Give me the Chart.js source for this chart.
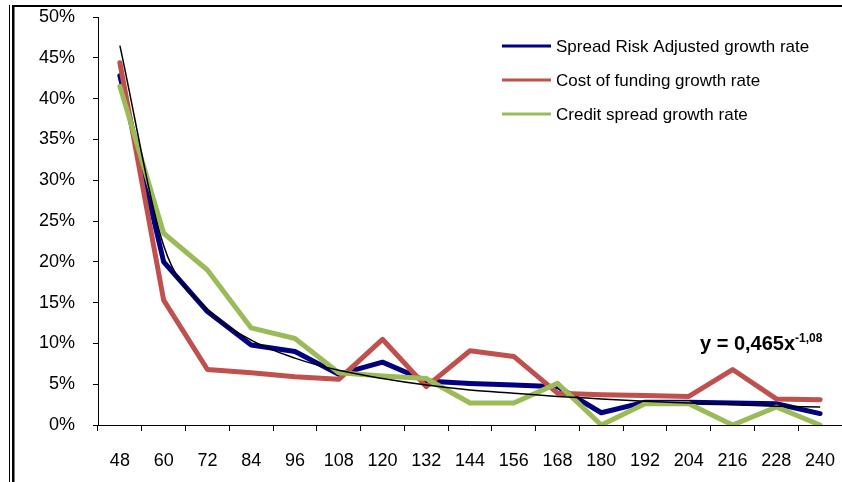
<!DOCTYPE html>
<html>
<head>
<meta charset="utf-8">
<script src="https://cdn.jsdelivr.net/npm/chart.js@4/dist/chart.umd.min.js"></script>
<style>
  html, body { margin: 0; padding: 0; background: #fff; }
  #wrap { width: 842px; height: 482px; }
</style>
</head>
<body>
<div id="wrap"><canvas id="growthChart" width="842" height="482"></canvas></div>
<script>
// Maturities (months) and growth rates per series
const maturities = ['48', '60', '72', '84', '96', '108', '120', '132', '144', '156', '168', '180', '192', '204', '216', '228', '240'];
const spreadRiskAdjusted = [0.428, 0.200, 0.139, 0.098, 0.090, 0.062, 0.077, 0.054, 0.051, 0.049, 0.047, 0.015, 0.028, 0.028, 0.027, 0.026, 0.014];
const costOfFunding = [0.444, 0.153, 0.068, 0.064, 0.059, 0.056, 0.105, 0.047, 0.091, 0.084, 0.039, 0.037, 0.036, 0.035, 0.068, 0.032, 0.031];
const creditSpread = [0.415, 0.235, 0.190, 0.119, 0.106, 0.064, 0.060, 0.057, 0.027, 0.027, 0.051, 0.000, 0.026, 0.026, 0.000, 0.022, 0.000];
// power trendline y = 0,465x^-1,08 at x = 1..17
const powerTrend = [0.465, 0.220, 0.142, 0.104, 0.082, 0.067, 0.057, 0.049, 0.043, 0.039, 0.035, 0.032, 0.029, 0.027, 0.025, 0.023, 0.022];
const trendLabel = ['y = 0,465x', '-1,08'];
const seriesNames = ['Spread Risk Adjusted growth rate', 'Cost of funding growth rate', 'Credit spread growth rate'];
const seriesColors = ['#000080', '#C0504D', '#9BBB59'];

const FONT = "'Liberation Sans', Arial, sans-serif";

// frame, legend and trend equation drawn on top of the chart
const overlay = {
    id: 'overlay',
    afterDraw(chart) {
        const ctx = chart.ctx;
        ctx.save();
        ctx.fillStyle = '#000';
        ctx.fillRect(9, 5, 1, 477);
        ctx.fillRect(12, 5, 2.5, 477);
        ctx.fillRect(12, 5, 830, 2);

        ctx.font = '17px ' + FONT;
        ctx.textBaseline = 'middle';
        [46, 80, 114].forEach((y, i) => {
            ctx.strokeStyle = seriesColors[i];
            ctx.lineWidth = 3;
            ctx.beginPath();
            ctx.moveTo(502, y);
            ctx.lineTo(551, y);
            ctx.stroke();
            ctx.fillStyle = '#000';
            ctx.fillText(seriesNames[i], 556, y + 1);
        });

        ctx.textBaseline = 'alphabetic';
        ctx.font = 'bold 20px ' + FONT;
        ctx.fillText(trendLabel[0], 700, 350);
        const w = ctx.measureText(trendLabel[0]).width;
        ctx.font = 'bold 12px ' + FONT;
        ctx.fillText(trendLabel[1], 700 + w, 342);
        ctx.restore();
    }
};

const lineStyle = { pointRadius: 0, borderWidth: 5, borderJoinStyle: 'round', borderCapStyle: 'round', tension: 0, fill: false };

new Chart(document.getElementById('growthChart'), {
    type: 'line',
    data: {
        labels: maturities,
        datasets: [
            { label: 'Power trend', data: powerTrend, borderColor: '#000', borderWidth: 1.5, pointRadius: 0, cubicInterpolationMode: 'monotone', order: 0 },
            { label: seriesNames[2], data: creditSpread, borderColor: seriesColors[2], ...lineStyle, order: 1 },
            { label: seriesNames[1], data: costOfFunding, borderColor: seriesColors[1], ...lineStyle, order: 2 },
            { label: seriesNames[0], data: spreadRiskAdjusted, borderColor: seriesColors[0], ...lineStyle, order: 3 }
        ]
    },
    options: {
        responsive: false,
        animation: false,
        layout: { padding: { left: 0, top: 17, right: 0, bottom: 0 } },
        plugins: { legend: { display: false }, tooltip: { enabled: false } },
        scales: {
            x: {
                offset: true,
                grid: { offset: true, drawOnChartArea: false, tickLength: 6, color: '#000' },
                border: { color: '#000', width: 1 },
                ticks: { color: '#000', font: { family: FONT, size: 18 }, padding: 19, maxRotation: 0, autoSkip: false },
                afterFit(scale) {
                    scale.height = 57;
                    scale.paddingLeft = 0;
                    scale.paddingRight = 0;
                }
            },
            y: {
                min: 0,
                max: 0.5,
                grid: { drawOnChartArea: false, tickLength: 5, color: '#000' },
                border: { color: '#000', width: 1 },
                ticks: {
                    stepSize: 0.05,
                    color: '#000',
                    padding: 18,
                    font: { family: FONT, size: 18 },
                    callback: v => Math.round(v * 100) + '%'
                },
                afterFit(scale) {
                    scale.width = 98;
                    scale.paddingTop = 0;
                    scale.paddingBottom = 0;
                }
            }
        }
    },
    plugins: [overlay]
});
</script>
</body>
</html>
